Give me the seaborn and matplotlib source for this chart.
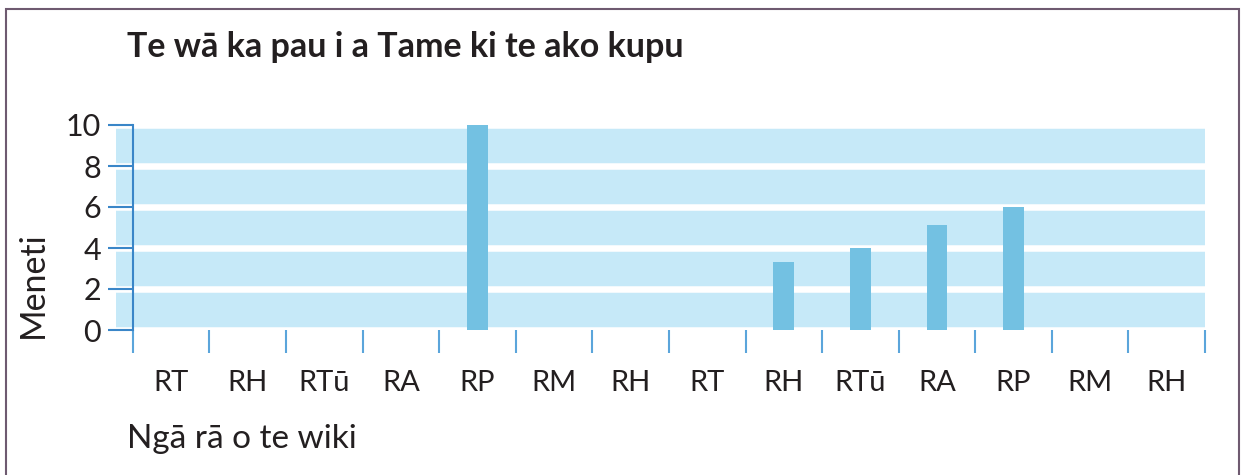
import matplotlib
matplotlib.use("Agg")
import matplotlib.pyplot as plt
from matplotlib.patches import Rectangle
import seaborn as sns

# data
days = ["RT", "RH", "RTū", "RA", "RP", "RM", "RH",
        "RT", "RH", "RTū", "RA", "RP", "RM", "RH"]
minutes = [0, 0, 0, 0, 10, 0, 0, 0, 3.3, 4, 5.1, 6, 0, 0]
yticks = [0, 2, 4, 6, 8, 10]

title = "Te wā ka pau i a Tame ki te ako kupu"
xlabel = "Ngā rā o te wiki"
ylabel = "Meneti"

BAND = "#c6e9f8"
BAR = "#73c1e2"
AXIS = "#3a86c8"
TICK = "#5ba5db"

sns.set_theme(style="white")
plt.rcParams["font.family"] = ["Lato", "DejaVu Sans"]

W, H = 1241, 475
fig = plt.figure(figsize=(W / 100, H / 100), dpi=100)

# axes placed by pixel position
left, right, top, bottom = 116, 1205, 125, 330
ax = fig.add_axes([left / W, 1 - bottom / H, (right - left) / W, (bottom - top) / H])
ax.set_facecolor(BAND)

pos = list(range(len(days)))
sns.barplot(x=pos, y=minutes, color=BAR, width=0.27, saturation=1,
            linewidth=0, ax=ax, zorder=3)

ax.set_xlim(-0.72, len(days) - 0.5)
ax.set_ylim(0, 10)
ax.set_xlabel("")
ax.set_ylabel("")

# white gaps between the bands
ax.set_axisbelow(True)
ax.set_yticks(yticks)
ax.yaxis.grid(True, color="white", linewidth=4.7)
ax.xaxis.grid(False)

for s in ["top", "right", "bottom"]:
    ax.spines[s].set_visible(False)
ax.spines["left"].set_position(("data", -0.5))
ax.spines["left"].set_color(AXIS)
ax.spines["left"].set_linewidth(1.5)
ax.spines["left"].set_zorder(4)

ax.tick_params(axis="y", direction="out", length=18, width=1.5, color=AXIS,
               labelsize=22, pad=5, labelcolor="#231f20", left=True)

# tick marks between the days, labels in the middle
ax.set_xticks(pos)
ax.set_xticklabels(days)
ax.set_xticks([p - 0.5 for p in pos] + [len(days) - 0.5], minor=True)
ax.tick_params(axis="x", which="major", length=0, pad=29, labelsize=21,
               labelcolor="#231f20")
ax.tick_params(axis="x", which="minor", direction="out", length=16.5,
               width=1.5, color=TICK, bottom=True)

fig.text(127 / W, 1 - 57 / H, title, fontsize=24.5, fontweight="bold",
         color="#231f20", va="baseline", ha="left")
fig.text(127 / W, 1 - 448 / H, xlabel, fontsize=24, color="#231f20",
         va="baseline", ha="left")
fig.text(33 / W, 1 - 285 / H, ylabel, fontsize=24.5, color="#231f20",
         rotation=90, va="center", ha="center")

# outer frame
fig.patches.append(Rectangle((6 / W, -0.05), (1239 - 6) / W, 1.05 - 9 / H,
                             transform=fig.transFigure, fill=False,
                             edgecolor="#6e5a70", linewidth=1.5))

fig.savefig("out.png", dpi=100)
